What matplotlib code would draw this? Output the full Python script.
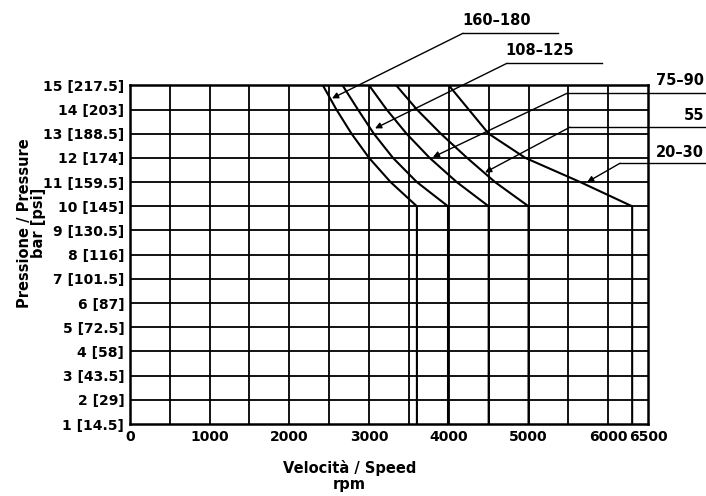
import numpy as np
import matplotlib.pyplot as plt

# pressure steps along each curve (bar), last point = vertical drop to 1 bar
pressure = [15, 14, 13, 12, 11, 10, 1]

# max speed (rpm) for each series
speed_160_180 = [2420, 2590, 2780, 3000, 3270, 3600, 3600]
speed_108_125 = [2667, 2860, 3060, 3300, 3600, 3990, 3990]
speed_75_90 = [3000, 3220, 3470, 3760, 4100, 4500, 4500]
speed_55 = [3340, 3600, 3900, 4230, 4580, 5000, 5000]
speed_20_30 = [4000, 4250, 4500, 4960, 5650, 6300, 6300]

series = ["160-180", "108-125", "75-90", "55", "20-30"]
speeds = [speed_160_180, speed_108_125, speed_75_90, speed_55, speed_20_30]

# leader arrow tips on each curve (rpm, bar)
tip_x = [2535, 3075, 3800, 4455, 5735]
tip_y = [14.46, 13.22, 12.03, 11.4, 11.0]

ytick_vals = list(range(1, 16))
ytick_labels = ["%d [%s]" % (b, ("%.1f" % (b * 14.5)).rstrip("0").rstrip(".")) for b in ytick_vals]
xtick_vals = [0, 1000, 2000, 3000, 4000, 5000, 6000, 6500]

plt.rcParams['font.family'] = ['Liberation Sans Narrow', 'DejaVu Sans']

fig = plt.figure(figsize=(7.06, 4.96), dpi=100)
ax = fig.add_axes([0.184, 0.145, 0.734, 0.683])

# grid
for x in range(500, 6500, 500):
    ax.axvline(x, color='black', lw=1.3, zorder=1)
for y in ytick_vals[1:-1]:
    ax.axhline(y, color='black', lw=1.3, zorder=1)

for sp in speeds:
    ax.plot(sp, pressure, color='black', lw=1.5, zorder=3)

ax.set_xlim(0, 6500)
ax.set_ylim(1, 15)
ax.set_xticks(xtick_vals)
ax.set_xticklabels([str(v) for v in xtick_vals], fontsize=10, fontweight='bold')
ax.set_yticks(ytick_vals)
ax.set_yticklabels(ytick_labels, fontsize=10, fontweight='bold')
ax.tick_params(length=0, pad=4)
for s in ax.spines.values():
    s.set_linewidth(1.8)

# leader lines: elbow point, end of horizontal part, label position (data coords)
elbow = [(4178, 17.15), (4730, 15.91), (5483, 14.67), (5520, 13.27), (6148, 11.78)]
line_end = [5370, 5922, 7227, 7227, 7227]
label_pos = [(4605, 17.68, 'center'), (5144, 16.45, 'center'), (7200, 15.2, 'right'),
             (7200, 13.76, 'right'), (7200, 12.23, 'right')]

for name, tx, ty, (ex, ey), le, (lx, ly, ha) in zip(series, tip_x, tip_y, elbow, line_end, label_pos):
    ax.plot([ex, le], [ey, ey], color='black', lw=1.0, clip_on=False, zorder=4)
    ax.annotate("", xy=(tx, ty), xytext=(ex, ey),
                arrowprops=dict(arrowstyle='-|>', color='black', lw=1.0,
                                mutation_scale=9, shrinkA=0, shrinkB=0),
                annotation_clip=False, zorder=4)
    ax.text(lx, ly, name.replace("-", "\u2013"), ha=ha, va='center',
            fontsize=10.5, fontweight='bold')

fig.text(0.495, 0.04, "Velocità / Speed\nrpm", ha='center', va='center',
         fontsize=10.5, fontweight='bold', linespacing=1.05)
fig.text(0.045, 0.55, "Pressione / Pressure\nbar [psi]", ha='center', va='center',
         rotation=90, fontsize=10.5, fontweight='bold', linespacing=0.95)

fig.savefig("out.png", dpi=100)
